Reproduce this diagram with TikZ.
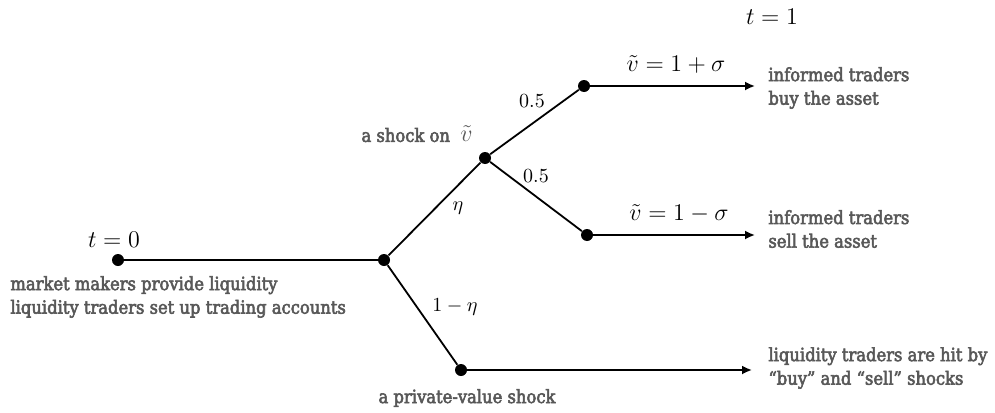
\documentclass[tikz,border=0pt]{standalone}
\usepackage{fontspec}
\newfontfamily\lblfont[Ligatures=TeX,FakeBold=3]{DejaVu Serif Condensed}
\usetikzlibrary{arrows.meta}
\definecolor{lblgray}{HTML}{585858}
\begin{document}
\begin{tikzpicture}[x=0.5pt,y=-0.5pt,
dot/.style = {circle,fill=black,inner sep=0pt,minimum size=6pt},
branch/.style = {line width=0.9pt,black},
outcome/.style = {line width=0.9pt,black,-{Latex[length=5pt,width=4.5pt]}},
descr/.style = {font=\lblfont\fontsize{9.1}{11.8}\selectfont,text=lblgray,align=left,inner sep=0pt},
mathlbl/.style = {font=\fontsize{12}{14}\selectfont,inner sep=0pt},
problbl/.style = {font=\fontsize{10}{12}\selectfont,inner sep=0pt}]

        \useasboundingbox (0,0) rectangle (995,412);

        % tree nodes
        \node[dot] (T_Zero) at ( 118, 260 ) {};
        \node[dot] (Split) at ( 384, 260 ) {};
        \node[dot] (Shock_V) at ( 485, 158 ) {};
        \node[dot] (Shock_P) at ( 461, 370 ) {};
        \node[dot] (V_Up) at ( 584, 86 ) {};
        \node[dot] (V_Down) at ( 587, 235 ) {};
        \coordinate (V_Up_End) at ( 755, 86 );
        \coordinate (V_Down_End) at ( 755, 235 );
        \coordinate (Shock_P_End) at ( 752, 370 );

        \draw[branch] (T_Zero) -- (Split);
        \draw[branch] (Split) -- (Shock_V);
        \draw[branch] (Split) -- (Shock_P);
        \draw[branch] (Shock_V) -- (V_Up);
        \draw[branch] (Shock_V) -- (V_Down);
        \draw[outcome] (V_Up) -- (V_Up_End);
        \draw[outcome] (V_Down) -- (V_Down_End);
        \draw[outcome] (Shock_P) -- (Shock_P_End);

        % labels
        \node[mathlbl] (T_Zero_Text) at ( 114, 240 ) {$t=0$};
        \node[mathlbl] (T_One_Text) at ( 772, 17 ) {$t=1$};
        \node[mathlbl] (V_Up_Text) at ( 676, 64 ) {$\tilde{v} = 1+\sigma$};
        \node[mathlbl] (V_Down_Text) at ( 679, 214 ) {$\tilde{v} = 1-\sigma$};
        \node[problbl] (Eta_Text) at ( 458, 208 ) {$\eta$};
        \node[problbl] (OneEta_Text) at ( 455, 307 ) {$1-\eta$};
        \node[problbl] (Half_Up_Text) at ( 532, 101 ) {$0.5$};
        \node[problbl] (Half_Down_Text) at ( 536, 176 ) {$0.5$};

        \node[descr,anchor=west] (T_Zero_Descr) at ( 10, 297 )
            {market makers provide liquidity\\liquidity traders set up trading accounts};
        \node[descr,anchor=east] (Shock_V_Descr) at ( 473, 134 )
            {a shock on \ {\fontsize{12}{14}\selectfont$\tilde{v}$}};
        \node[descr] (Shock_P_Descr) at ( 467, 398 ) {a private-value shock};
        \node[descr,anchor=west] (V_Up_Descr) at ( 768, 88 )
            {informed traders\\buy the asset};
        \node[descr,anchor=west] (V_Down_Descr) at ( 768, 229 )
            {informed traders\\sell the asset};
        \node[descr,anchor=west] (Shock_P_Descr_R) at ( 768, 368 )
            {liquidity traders are hit by\\``buy'' and ``sell'' shocks};

    \end{tikzpicture}
\end{document}
